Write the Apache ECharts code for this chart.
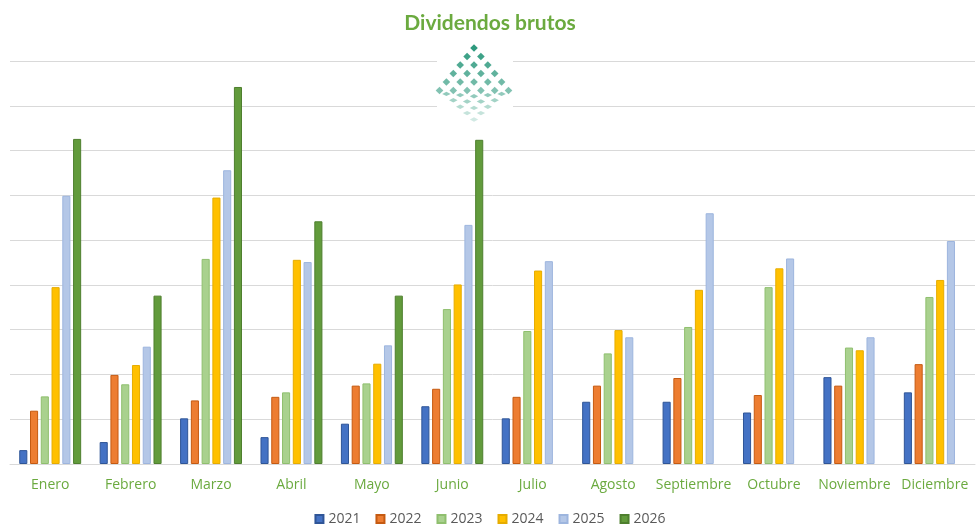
<!DOCTYPE html>
<html><head><meta charset="utf-8">
<script src="https://cdn.jsdelivr.net/npm/echarts@6/dist/echarts.min.js"></script>
<style>html,body{margin:0;padding:0;background:#fff}#c{width:980px;height:532px}</style>
</head><body><div id="c"></div>
<script>
const months = ['Enero','Febrero','Marzo','Abril','Mayo','Junio','Julio','Agosto','Septiembre','Octubre','Noviembre','Diciembre'];
const years = ['2021','2022','2023','2024','2025','2026'];
const v2021 = [3.1, 4.9, 10.2, 6.0, 9.0, 12.9, 10.2, 13.9, 13.9, 11.5, 19.4, 16.0];
const v2022 = [11.9, 19.9, 14.2, 15.0, 17.5, 16.8, 15.0, 17.5, 19.2, 15.4, 17.5, 22.3];
const v2023 = [15.1, 17.8, 45.8, 16.0, 18.0, 34.6, 29.7, 24.7, 30.6, 39.5, 26.0, 37.3];
const v2024 = [39.5, 22.1, 59.5, 45.6, 22.4, 40.1, 43.2, 29.9, 38.9, 43.7, 25.4, 41.1];
const v2025 = [59.9, 26.2, 65.6, 45.1, 26.5, 53.4, 45.3, 28.3, 56.0, 45.9, 28.3, 49.8];
const v2026 = [72.6, 37.6, 84.2, 54.2, 37.6, 72.4, null, null, null, null, null, null];
const seriesValues = [v2021, v2022, v2023, v2024, v2025, v2026];
const colors = ['#4472C4','#ED7D31','#A9D18E','#FFC000','#B4C7E7','#629B3C'];
const borders = ['#2F5597','#C55A11','#8FBF6E','#E6AC00','#9DB5DE','#4E7F2E'];

// decorative logo (diamond lattice)
const logo = [{type:'rect', shape:{x:437,y:42,width:76,height:82}, style:{fill:'#fff'}, z:100}];
for (let a = 0; a < 6; a++) {
  for (let b = 0; b < 6; b++) {
    const k = a + b;
    const d = a - b;
    const cx = 474 + d * 6.9;
    let cy = k <= 5 ? 48 + 8.5 * k : 90.5 + 5.8 * (k - 5);
    if (k > 5) cy -= Math.abs(d) * 0.6;
    const lower = k > 5;
    const h = lower ? 2.2 : 3.8;
    const w = lower ? 4.2 : 3.8;
    logo.push({type:'polygon', z:101,
      shape:{points:[[cx,cy-h],[cx+w,cy],[cx,cy+h],[cx-w,cy]]},
      style:{fill:'#2E9A7E', opacity: Math.max(0.22, 1 - k*0.08)}});
  }
}

const chart = echarts.init(document.getElementById('c'), null, {renderer:'canvas'});
chart.setOption({
  animation:false,
  backgroundColor:'#fff',
  title:{text:'Dividendos brutos', left:'center', top:8,
    textStyle:{color:'#6BAA3F', fontFamily:'Lato', fontWeight:'bold', fontSize:21}},
  legend:{bottom:1, left:'center', itemWidth:8, itemHeight:8, itemGap:15, icon:'rect',
    textStyle:{color:'#595959', fontFamily:'Open Sans', fontSize:14}, data:years},
  grid:{left:10, right:5, top:61, bottom:68, containLabel:false},
  xAxis:{type:'category', data:months,
    axisLine:{lineStyle:{color:'#D9D9D9', width:1}}, axisTick:{show:false},
    axisLabel:{color:'#6BAA3F', fontFamily:'Open Sans', fontSize:14, margin:14, interval:0}},
  yAxis:{type:'value', min:0, max:90, interval:10,
    axisLabel:{show:false}, axisLine:{show:false}, axisTick:{show:false},
    splitLine:{lineStyle:{color:'#D9D9D9', width:1}}},
  series: years.map((y,i)=>({
    name:y, type:'bar', data:seriesValues[i],
    barCategoryGap:'23%', barGap:'33%',
    itemStyle:{color:colors[i], borderColor:borders[i], borderWidth:1}
  })),
  graphic: logo
});
</script></body></html>
